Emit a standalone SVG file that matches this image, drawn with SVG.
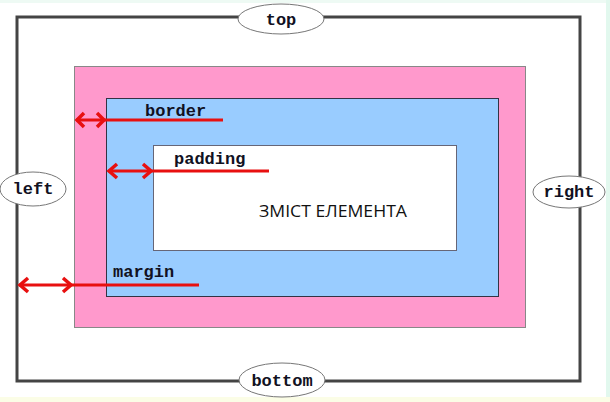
<svg xmlns="http://www.w3.org/2000/svg" width="610" height="402" viewBox="0 0 610 402">
<defs>
<style>
.lbl{font-family:"Liberation Mono","Courier New",monospace;font-weight:bold;font-size:17px;fill:#111122}
.ell{fill:#fff;stroke:#777;stroke-width:1}
.red{stroke:#e81010;stroke-width:3;fill:none}
.ah{fill:none;stroke:#e81010;stroke-width:3.5;stroke-linejoin:miter}
</style>
</defs>
<rect x="0" y="0" width="610" height="402" fill="#ffffff"/>
<rect x="0" y="0" width="610" height="3" fill="#eefaf4"/>
<rect x="606" y="0" width="4" height="402" fill="#e2f8ee"/>
<rect x="0" y="397" width="610" height="5" fill="#fbfde6"/>
<g id="margin-box">
<rect x="17" y="17" width="563" height="364" fill="#fff" stroke="#444" stroke-width="3"/>
</g>
<g id="border-box">
<rect x="74.5" y="66.5" width="451" height="261" fill="#ff99cc" stroke="#888" stroke-width="1"/>
</g>
<g id="padding-box">
<rect x="106.5" y="98.5" width="392" height="198" fill="#99ccff" stroke="#334" stroke-width="1"/>
</g>
<g id="content">
<rect x="153.5" y="145.5" width="303" height="105" fill="#fff" stroke="#667" stroke-width="1"/>
<text x="259" y="217" font-family="'Open Sans','Noto Sans',sans-serif" font-size="17" fill="#111" textLength="148" lengthAdjust="spacingAndGlyphs">ЗМІСТ ЕЛЕМЕНТА</text>
</g>
<g id="top">
<ellipse class="ell" cx="281" cy="19" rx="43" ry="15"/>
<text class="lbl" x="281" y="25" text-anchor="middle">top</text>
</g>
<g id="bottom">
<ellipse class="ell" cx="282" cy="380" rx="43" ry="17"/>
<text class="lbl" x="282" y="386" text-anchor="middle">bottom</text>
</g>
<g id="left">
<ellipse class="ell" cx="33" cy="189" rx="33" ry="17"/>
<text class="lbl" x="33" y="194" text-anchor="middle">left</text>
</g>
<g id="right">
<ellipse class="ell" cx="569" cy="192" rx="36" ry="16"/>
<text class="lbl" x="569" y="197" text-anchor="middle">right</text>
</g>
<g id="labels">
<text class="lbl" x="145" y="116">border</text>
<text class="lbl" x="174" y="164">padding</text>
<text class="lbl" x="113" y="277">margin</text>
</g>
<g id="connectors">
<line class="red" x1="76" y1="120" x2="223" y2="120"/>
<path class="ah" d="M84,113 L77,120 L84,127 M97,113 L104,120 L97,127"/>
<line class="red" x1="108" y1="171" x2="269" y2="171"/>
<path class="ah" d="M117,164 L109,171 L117,178 M143,164 L151,171 L143,178"/>
<line class="red" x1="19" y1="285" x2="199" y2="285"/>
<path class="ah" d="M28,278 L20,285 L28,292 M63,278 L71,285 L63,292"/>
</g>
</svg>
